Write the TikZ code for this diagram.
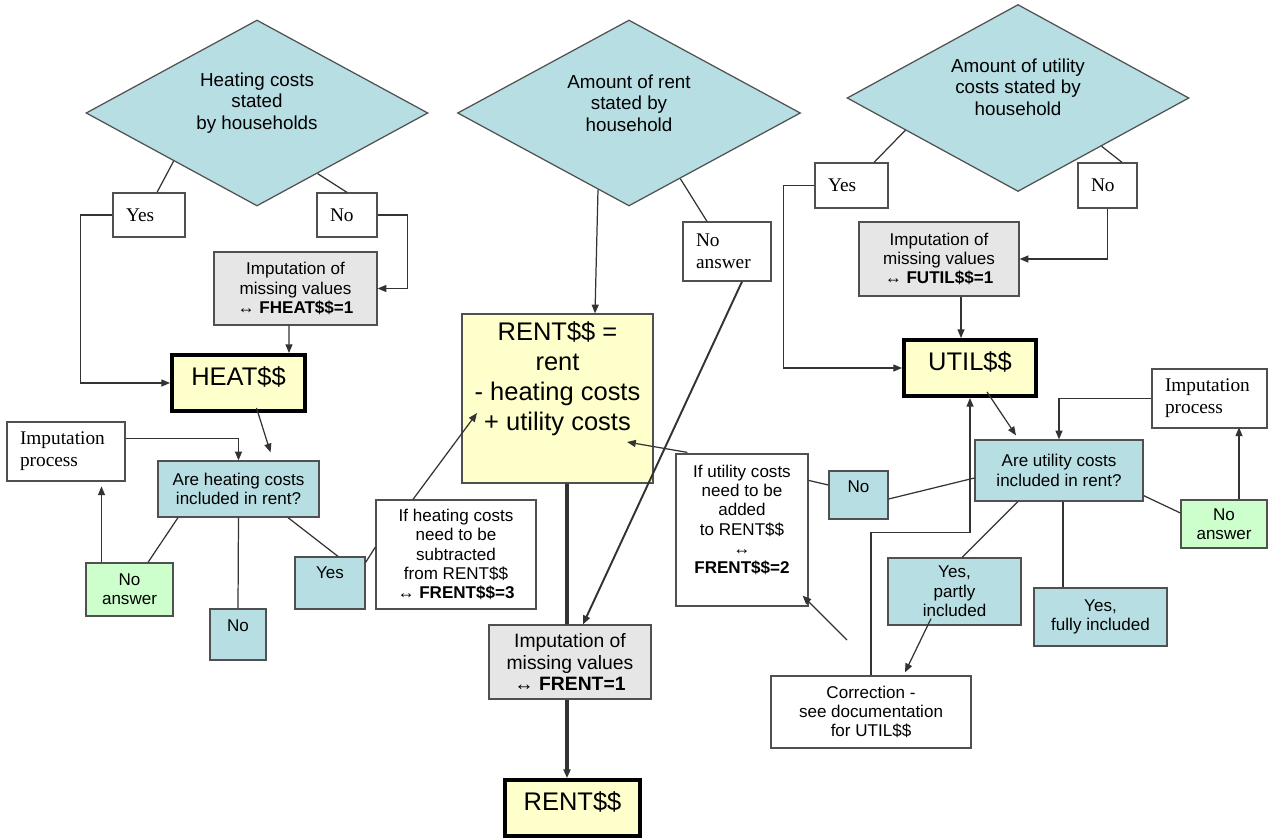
\documentclass[tikz,border=0pt]{standalone}
\usepackage{fontspec}
\setmainfont{Liberation Serif}
\setsansfont{Liberation Sans}
\usetikzlibrary{arrows.meta,shapes.geometric,calc}
\definecolor{askblue}{RGB}{183,222,226}
\definecolor{resultyellow}{RGB}{255,255,204}
\definecolor{imputegray}{RGB}{230,230,230}
\definecolor{noansgreen}{RGB}{204,255,204}
\definecolor{edgegray}{RGB}{80,80,80}

\begin{document}
\begin{tikzpicture}[x=0.02cm, y=-0.02cm,
  ask/.style={diamond, shape aspect=1.84, draw=edgegray, fill=askblue, line width=0.7pt, minimum width=6.84cm, minimum height=3.72cm, inner sep=0pt, align=center, font=\sffamily\fontsize{10.7}{12.3}\selectfont},
  box/.style={draw=edgegray, line width=0.7pt, inner sep=1pt, align=center},
  answer/.style={box, fill=white, align=left, inner xsep=0.26cm, font=\rmfamily\fontsize{11}{12.5}\selectfont},
  impute/.style={box, fill=imputegray, font=\sffamily\fontsize{9.7}{11}\selectfont},
  result/.style={box, draw=black, line width=2.2pt, fill=resultyellow, text depth=7.8pt, font=\sffamily\fontsize{14.5}{17}\selectfont},
  formula/.style={box, fill=resultyellow, font=\sffamily\fontsize{14.5}{17}\selectfont},
  incl/.style={box, fill=askblue, font=\sffamily\fontsize{9.7}{11}\selectfont},
  noans/.style={incl, fill=noansgreen},
  note/.style={box, fill=white, font=\sffamily\fontsize{9.7}{11}\selectfont},
  arr/.style={-{Triangle[length=5pt,width=4pt]}, line width=0.7pt, draw=black!80},
  ln/.style={line width=0.7pt, draw=black!80},
  heavy/.style={line width=2pt}
]
\useasboundingbox (0,0) rectangle (1268,838);

% questions
\node[ask, text depth=13.6pt] (heatq) at (257,113) {Heating costs\\stated\\by households};
\node[ask, minimum width=6.86cm, text depth=11.3pt] (rentq) at (629,113) {Amount of rent\\stated by\\household};
\node[ask, minimum height=3.74cm, text depth=12.5pt] (utilq) at (1018,98) {Amount of utility\\costs stated by\\household};

% heating costs
\node[answer, text width=0.92cm, minimum height=0.88cm] (heatyes) at (149,215) {Yes};
\node[answer, text width=0.68cm, minimum height=0.88cm] (heatno) at (347,215) {No};
\node[impute, minimum width=3.26cm, minimum height=1.46cm] (heatimp) at (295.5,288.5) {Imputation of\\missing values\\↔ \textbf{FHEAT\$\$=1}};
\node[result, minimum width=2.66cm, minimum height=1.12cm] (heat) at (238.5,383) {HEAT\$\$};
\node[answer, text width=1.84cm, minimum height=1.18cm] (heatproc) at (66,451.5) {Imputation\\process};
\node[incl, minimum width=3.22cm, minimum height=1.12cm] (heatinc) at (238.5,489) {Are heating costs\\included in rent?};
\node[noans, minimum width=1.74cm, minimum height=1.06cm] (heatna) at (129.5,589.5) {No\\answer};
\node[incl, minimum width=1.12cm, minimum height=1.02cm, text depth=9.6pt] (heatincno) at (238,634.5) {No};
\node[incl, minimum width=1.4cm, minimum height=1.04cm, text depth=11.3pt] (heatincyes) at (330,583) {Yes};
\node[note, minimum width=3.2cm, minimum height=2.18cm] (heatnote) at (456,554.5) {If heating costs\\need to be\\subtracted\\from RENT\$\$\\↔ \textbf{FRENT\$\$=3}};

% rent
\node[formula, minimum width=3.82cm, minimum height=3.38cm, text depth=25.7pt] (rentbox) at (557.5,398.5) {RENT\$\$ =\\rent\\- heating costs\\+ utility costs};
\node[answer, text width=1.24cm, minimum height=1.18cm] (rentna) at (727,251.5) {No\\answer};
\node[impute, minimum width=3.24cm, minimum height=1.48cm, font=\sffamily\fontsize{11}{12.5}\selectfont] (rentimp) at (570,662) {Imputation of\\missing values\\↔ \textbf{FRENT=1}};
\node[result, minimum width=2.7cm, minimum height=1.12cm] (rent) at (572.5,808) {RENT\$\$};

% utility costs
\node[answer, text width=0.94cm, minimum height=0.9cm] (utilyes) at (851.5,185.5) {Yes};
\node[answer, text width=0.66cm, minimum height=0.9cm] (utilno) at (1107.5,185.5) {No};
\node[impute, minimum width=3.2cm, minimum height=1.48cm] (utilimp) at (939,259) {Imputation of\\missing values\\↔ \textbf{FUTIL\$\$=1}};
\node[result, minimum width=2.64cm, minimum height=1.12cm] (util) at (970,368) {UTIL\$\$};
\node[incl, minimum width=3.36cm, minimum height=1.22cm] (utilinc) at (1059,470.5) {Are utility costs\\included in rent?};
\node[answer, text width=1.78cm, minimum height=1.18cm] (utilproc) at (1209.5,398.5) {Imputation\\process};
\node[noans, minimum width=1.72cm, minimum height=0.96cm] (utilna) at (1224,524) {No\\answer};
\node[incl, minimum width=1.18cm, minimum height=0.96cm, text depth=9pt] (utilincno) at (858.5,495) {No};
\node[note, minimum width=2.64cm, minimum height=3.04cm, text depth=12pt] (utilnote) at (742,530) {If utility costs\\need to be\\added\\to RENT\$\$\\↔\\\textbf{FRENT\$\$=2}};
\node[incl, minimum width=2.66cm, minimum height=1.34cm] (utilpart) at (954.5,591.5) {Yes,\\partly\\included};
\node[incl, minimum width=2.66cm, minimum height=1.16cm] (utilfull) at (1100.5,617) {Yes,\\fully included};
\node[note, minimum width=4cm, minimum height=1.44cm] (utilcorr) at (871,712) {Correction -\\see documentation\hspace*{18pt}\\for UTIL\$\$};
\coordinate (stray) at (847,640);

% heating connectors
\draw[ln] (heatq.210) -- ($(heatyes.north)+(8,0)$);
\draw[ln] (heatq.-45) -- (heatno.north);
\draw[arr] (heatyes.west) -- ++(-32,0) |- (heat.west);
\draw[arr] (heatno.east) -- ++(30,0) |- (heatimp.east);
\draw[arr] ($(heatimp.south)+(-6.5,0)$) -- ($(heat.north)+(50.5,0)$);
\draw[arr] ($(heat.south)+(18,-5)$) -- ($(heatinc.north)+(32,-8)$);
\draw[arr] ($(heatproc.north east)+(0,17)$) -| (heatinc.north);
\draw[arr] ($(heatna.north)+(-28,0)$) -- ++(0,-76);
\draw[ln] ($(heatinc.south)+(-60.5,0)$) -- ($(heatna.north)+(18.5,0)$);
\draw[ln] (heatinc.south) -- (heatincno.north);
\draw[ln] ($(heatinc.south)+(49.5,0)$) -- ($(heatincyes.north)+(8,0)$);
\draw[ln] ($(heatincyes.north east)+(0,6)$) -- ($(heatnote.west)+(0,-7.5)$);
\draw[arr] ($(heatnote.north)+(-43,0)$) -- ($(rentbox.center)+(-80.5,14.5)$);

% rent connectors
\draw[arr] (rentq.248) -- ($(rentbox.north)+(37.5,0)$);
\draw[ln] (rentq.-52) -- ($(rentna.north)+(-20,0)$);
\draw[arr, line width=1.1pt] ($(rentna.south)+(15,0)$) -- ($(rentimp.north)+(13,0)$);
\draw[ln, heavy] ($(rentbox.south)+(9.5,0)$) -- ($(rentimp.north)+(-3,0)$);
\draw[arr, heavy] ($(rentimp.south)+(-3,0)$) -- ($(rent.north)+(-5.5,0)$);
\draw[arr] ($(utilnote.north west)+(12,-1)$) -- ($(rentbox.center)+(69.5,43.5)$);

% utility connectors
\draw[ln] (utilq.196) -- ($(utilyes.north)+(22.5,0)$);
\draw[ln] (utilq.-30) -- ($(utilno.north)+(14.5,0)$);
\draw[arr] (utilyes.west) -- ++(-31,0) |- (util.west);
\draw[arr] (utilno.south) |- (utilimp.east);
\draw[arr] ($(utilimp.south)+(22,0)$) -- ($(util.north)+(-9,0)$);
\draw[arr] ($(util.south)+(17,-6)$) -- ($(utilinc.north)+(-43,-4)$);
\draw[arr] (utilproc.west) -| (utilinc.north);
\draw[arr] ($(utilna.north)+(15,0)$) -- ++(0,-72);
\draw[ln] ($(utilinc.south east)+(0,-6)$) -- ($(utilna.west)+(0,-11)$);
\draw[ln] ($(utilinc.west)+(0,7.5)$) -- ($(utilincno.east)+(0,4)$);
\draw[ln] ($(utilincno.west)+(0,-10)$) -- ($(utilnote.north east)+(0,27)$);
\draw[ln] ($(utilinc.south)+(-41,0)$) -- ($(utilpart.north)+(7.5,0)$);
\draw[ln] ($(utilinc.south)+(4,0)$) -- ($(utilfull.north)+(-37.5,0)$);
\draw[arr] ($(utilpart.south)+(-23.5,-7)$) -- ($(utilcorr.north)+(34,-3)$);
\draw[arr] (utilcorr.north) -- ++(0,-143) -| (util.south);
\draw[arr] (stray) -- ($(utilnote.south east)+(-6,-11)$);
\end{tikzpicture}
\end{document}
